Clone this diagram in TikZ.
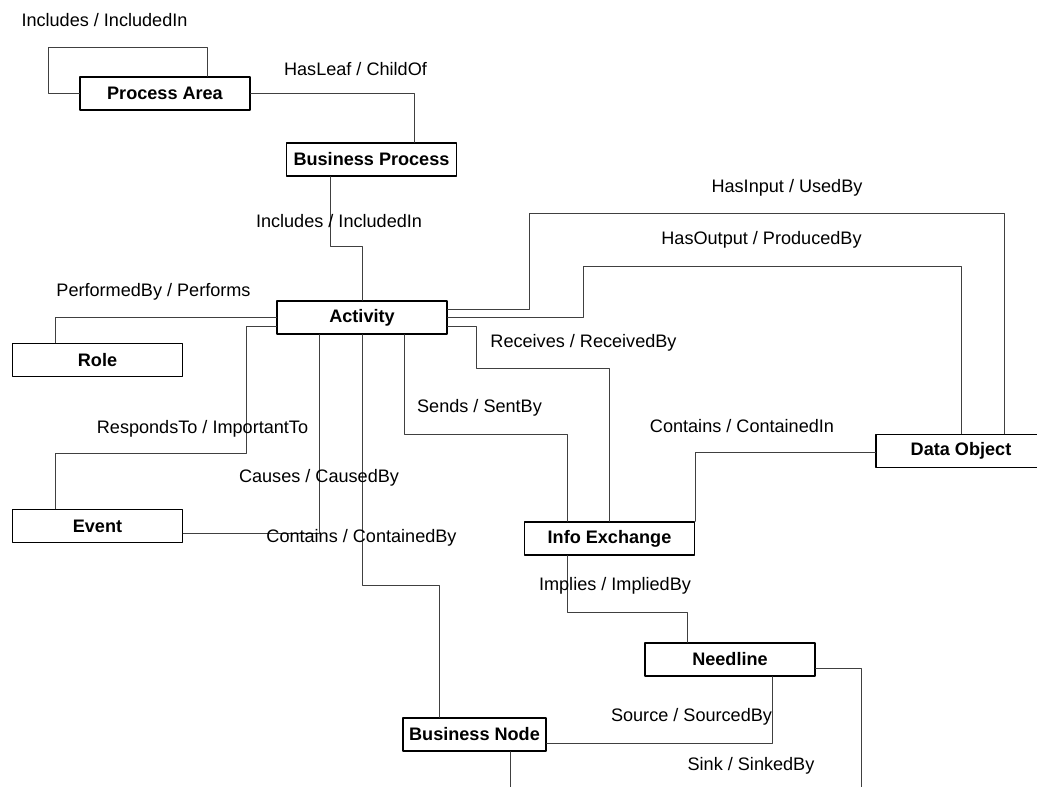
\documentclass[tikz,border=0pt]{standalone}
\usepackage{fontspec}
\setmainfont{Liberation Sans}
\usepackage{tikz}
\usetikzlibrary{calc}

\begin{document}
\begin{tikzpicture}[line cap=round,line join=round,x=0.02cm,y=-0.02cm,
	ent/.style={draw=black,line width=0.8pt,fill=white,minimum width=3.4cm,minimum height=0.66cm,inner sep=0pt,font=\fontsize{10.3}{12}\selectfont\bfseries},
	link/.style={draw=black!75,line width=0.5pt},
	rel/.style={inner sep=0pt,font=\fontsize{10.3}{12}\selectfont}]
		\useasboundingbox (0,0) rectangle (1037,787);
		\clip (0,0) rectangle (1037,787);
		\node[ent] (pa) at (165,93.5) {Process Area};
		\node[ent] (bp) at (371.5,159.5) {Business Process};
		\node[ent] (act) at (362,317.5) {Activity};
		\node[ent] (role) at (97.5,360) {Role};
		\node[ent] (event) at (97.5,526) {Event};
		\node[ent,minimum width=2.86cm] (bn) at (474.5,734.5) {Business Node};
		\node[ent] (ie) at (609.5,538.5) {Info Exchange};
		\node[ent] (nl) at (730,659.5) {Needline};
		\node[ent] (dobj) at (961,451) {Data Object};
		\draw[link] (pa.west) -| ++(-31,-46) -| ($(pa.north)+(42,0)$);
		\draw[link] (pa.east) -| ($(bp.north)+(42.5,0)$);
		\draw[link] ($(bp.south)+(-41.5,0)$) -- ++(0,70) -| (act.north);
		\draw[link] (act.west) -| ($(role.north)+(-42.5,0)$);
		\draw[link] ($(act.west)+(0,8.5)$) -| ++(-30,127) -| ($(event.north)+(-42.5,0)$);
		\draw[link] ($(event.east)+(0,7)$) -| ($(act.south)+(-43,0)$);
		\draw[link] (act.south) -- ++(0,251) -| ($(bn.north)+(-35.5,0)$);
		\draw[link] ($(act.east)+(0,-8.5)$) -| ++(82,-96) -| ($(dobj.north)+(43,0)$);
		\draw[link] (act.east) -| ++(136,-51.5) -| (dobj.north);
		\draw[link] ($(act.east)+(0,8.5)$) -| ++(29,42) -| (ie.north);
		\draw[link] ($(act.south)+(42,0)$) -- ++(0,100) -| ($(ie.north)+(-42.5,0)$);
		\draw[link] ($(dobj.west)+(0,1)$) -| (ie.north east);
		\draw[link] ($(ie.south)+(-42.5,0)$) -- ++(0,57) -| ($(nl.north)+(-43,0)$);
		\draw[link] ($(bn.east)+(0,8.5)$) -| ($(nl.south)+(42,0)$);
		\draw[link] ($(bn.south)+(35.5,0)$) -- ++(0,60) -| ($(nl.east)+(46,8.5)$) -- ($(nl.east)+(0,8.5)$);
		\node[rel] (lpa) at (104.5,20) {Includes / IncludedIn};
		\node[rel] (lleaf) at (355.5,69) {HasLeaf / ChildOf};
		\node[rel] (lbp) at (339,221) {Includes / IncludedIn};
		\node[rel] (lrole) at (153.5,292) {PerformedBy / Performs};
		\node[rel] (levent) at (202.5,429) {RespondsTo / ImportantTo};
		\node[rel] (lcause) at (319,478) {Causes / CausedBy};
		\node[rel] (lbn) at (361.5,538) {Contains / ContainedBy};
		\node[rel] (lin) at (787,188) {HasInput / UsedBy};
		\node[rel] (lout) at (761.5,240) {HasOutput / ProducedBy};
		\node[rel] (lrecv) at (583.5,343) {Receives / ReceivedBy};
		\node[rel] (lsend) at (479.5,408) {Sends / SentBy};
		\node[rel] (ldobj) at (742,426) {Contains / ContainedIn};
		\node[rel] (limpl) at (615,586) {Implies / ImpliedBy};
		\node[rel] (lsrc) at (691.5,717) {Source / SourcedBy};
		\node[rel] (lsink) at (751,766) {Sink / SinkedBy};
\end{tikzpicture}
\end{document}
